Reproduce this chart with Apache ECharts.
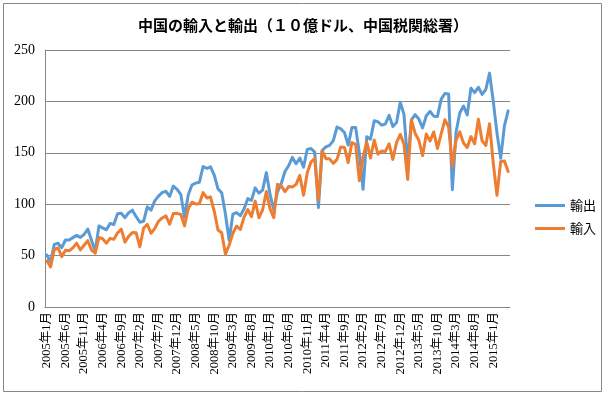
<!DOCTYPE html>
<html>
<head>
<meta charset="utf-8">
<style>
  html, body { margin: 0; padding: 0; background: #fff; }
  #chart { width: 606px; height: 399px; }
</style>
<script src="https://cdn.jsdelivr.net/npm/echarts@6/dist/echarts.min.js"></script>
</head>
<body>
<div id="chart"></div>
<script>
// 10億ドル, 2005年1月 - 2015年5月 (one row per year)
var exportsData = [
  50.6, 44.0, 60.9, 62.0, 57.7, 65.2, 65.2, 67.5, 69.7, 67.7, 70.5, 75.9,
  65.0, 54.4, 78.9, 76.9, 75.1, 81.3, 80.3, 90.8, 91.2, 86.9, 91.8, 94.2,
  87.9, 82.4, 83.4, 97.4, 94.2, 103.2, 107.9, 111.4, 112.5, 107.6, 117.6, 114.4,
  109.6, 87.4, 108.9, 118.7, 120.5, 121.4, 136.7, 134.9, 136.4, 128.3, 114.9, 111.2,
  90.5, 64.9, 90.3, 91.9, 88.8, 95.4, 105.4, 103.7, 115.9, 110.8, 113.7, 130.7,
  109.5, 94.5, 112.1, 119.9, 131.8, 137.4, 145.5, 139.3, 144.9, 135.9, 153.3, 154.2,
  150.7, 96.7, 152.2, 155.7, 157.2, 161.9, 175.1, 173.3, 169.7, 157.5, 174.5, 174.7,
  149.9, 114.5, 165.7, 163.3, 181.1, 180.2, 176.9, 178.0, 186.4, 175.6, 179.4, 199.2,
  187.4, 139.4, 182.0, 187.1, 182.8, 174.3, 186.0, 190.3, 185.6, 185.4, 202.2, 207.7,
  207.1, 114.1, 170.1, 188.7, 195.5, 186.8, 212.9, 208.5, 213.7, 206.9, 211.6, 227.5,
  200.3, 169.2, 144.6, 176.3, 190.8
];
var importsData = [
  45.0, 39.0, 55.8, 57.6, 49.0, 55.2, 54.7, 57.5, 62.1, 55.6, 60.0, 64.5,
  55.4, 52.3, 67.7, 66.4, 62.1, 66.8, 65.8, 72.0, 75.7, 63.1, 68.8, 72.4,
  72.2, 58.6, 76.6, 80.5, 71.7, 76.3, 83.3, 86.6, 88.6, 80.6, 91.0, 91.1,
  90.1, 78.9, 95.6, 101.9, 100.3, 100.4, 111.3, 106.1, 107.0, 93.1, 74.9, 72.2,
  51.5, 60.1, 71.7, 78.8, 75.4, 87.2, 94.8, 87.9, 103.0, 86.8, 94.6, 112.3,
  95.4, 86.9, 119.4, 117.8, 112.2, 117.2, 116.8, 119.3, 128.0, 108.8, 130.5, 141.1,
  144.2, 104.0, 152.0, 144.3, 144.1, 139.7, 143.6, 155.6, 155.2, 140.5, 159.9, 158.2,
  122.7, 146.0, 160.4, 144.9, 162.4, 148.7, 151.8, 151.3, 158.7, 143.6, 159.8, 167.9,
  158.2, 124.1, 181.9, 168.8, 162.2, 147.2, 168.2, 161.5, 170.3, 154.3, 168.4, 182.1,
  175.2, 137.1, 162.4, 170.3, 159.6, 155.2, 165.8, 158.8, 182.7, 161.6, 157.1, 178.2,
  140.0, 108.6, 141.6, 142.1, 131.8
];

// month labels 2005年1月 ... 2015年5月
var months = [];
for (var i = 0; i < exportsData.length; i++) {
  months.push((2005 + Math.floor(i / 12)) + '年' + (i % 12 + 1) + '月');
}

var gridColor = '#868686';
var chart = echarts.init(document.getElementById('chart'));

var option = {
  backgroundColor: '#fff',
  animation: false,
  title: {
    text: '中国の輸入と輸出（１０億ドル、中国税関総署）',
    left: 'center',
    top: 13,
    textStyle: {
      fontFamily: 'Noto Sans CJK JP',
      fontSize: 15,
      fontWeight: 'bold',
      color: '#000'
    }
  },
  graphic: [{
    type: 'rect',
    shape: { x: 3.5, y: 3.5, width: 598, height: 388 },
    style: { fill: null, stroke: gridColor, lineWidth: 1 },
    silent: true
  }],
  legend: {
    orient: 'vertical',
    left: 530,
    top: 194,
    icon: 'rect',
    itemWidth: 30,
    itemHeight: 3,
    itemGap: 10,
    textStyle: { fontFamily: 'Noto Sans CJK JP', fontSize: 13, color: '#000' },
    data: ['輸出', '輸入']
  },
  grid: { left: 45, top: 50, width: 465, height: 257 },
  xAxis: {
    type: 'category',
    data: months,
    boundaryGap: true,
    axisLine: { lineStyle: { color: gridColor } },
    axisTick: { show: false },
    axisLabel: {
      rotate: 90,
      interval: 4,
      margin: 5,
      color: '#000',
      fontSize: 12.5,
      fontFamily: 'Liberation Serif, Noto Sans CJK JP'
    }
  },
  yAxis: {
    type: 'value',
    min: 0,
    max: 250,
    interval: 50,
    axisLine: { show: true, lineStyle: { color: gridColor } },
    axisTick: { show: false },
    splitLine: { lineStyle: { color: gridColor } },
    axisLabel: {
      margin: 10,
      color: '#000',
      fontSize: 14,
      fontFamily: 'Liberation Serif'
    }
  },
  series: [
    {
      name: '輸出',
      type: 'line',
      data: exportsData,
      showSymbol: false,
      symbol: 'none',
      color: '#5B9BD5',
      lineStyle: { width: 3, color: '#5B9BD5', join: 'round', cap: 'round' }
    },
    {
      name: '輸入',
      type: 'line',
      data: importsData,
      showSymbol: false,
      symbol: 'none',
      color: '#ED7D31',
      lineStyle: { width: 3, color: '#ED7D31', join: 'round', cap: 'round' }
    }
  ]
};

chart.setOption(option);
</script>
</body>
</html>
